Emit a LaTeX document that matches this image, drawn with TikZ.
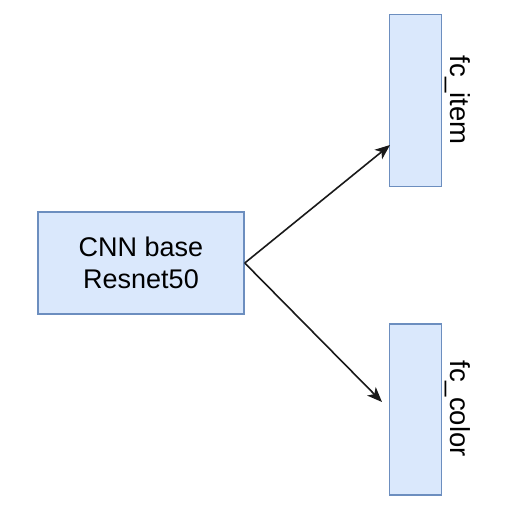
\documentclass[tikz,border=0pt]{standalone}
\usepackage{fontspec}
\setmainfont{Liberation Sans}
\usetikzlibrary{arrows.meta}
\definecolor{boxfill}{HTML}{DAE8FC}
\definecolor{boxline}{HTML}{6C8EBF}
\tikzset{
    block/.style={draw=boxline,fill=boxfill,line width=1.5pt,inner sep=0pt},
    layername/.style={rotate=-90,anchor=base,inner sep=0pt,font=\fontsize{27.5}{33}\selectfont},
    flow/.style={-{Stealth[length=15pt,width=12pt,inset=4pt]},line width=1.6pt,black!90}
}
\begin{document}
\begin{tikzpicture}[x=1pt,y=-1pt]
%\draw [help lines](0,0) grid (517,507);
\useasboundingbox (0,0) rectangle (517,507);
\node [block,minimum width=206pt,minimum height=102pt,align=center,
       font=\fontsize{27}{32}\selectfont] (cnn) at (141,263) {CNN base\\Resnet50};
\node [block,minimum width=52pt,minimum height=172pt] (item) at (415.5,100.5) {};
\node [block,minimum width=52pt,minimum height=171pt] (color) at (415.5,409.5) {};
\node [layername] (itemname) at (450.5,100) {fc\_item};
\node [layername] (colorname) at (450.5,408.5) {fc\_color};
\coordinate (itemin) at (390,145);
\coordinate (colorin) at (382,402);
\draw [flow] (cnn.east) -- (itemin);
\draw [flow] (cnn.east) -- (colorin);
\end{tikzpicture}
\end{document}
